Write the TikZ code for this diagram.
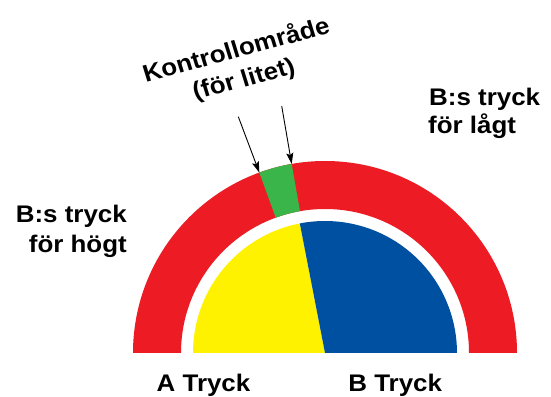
\documentclass[tikz,border=0pt]{standalone}
\usepackage{fontspec}
\setmainfont{Liberation Sans}
\usetikzlibrary{arrows.meta,calc}
\definecolor{gred}{HTML}{ED1C24}
\definecolor{ggreen}{HTML}{3AB54A}
\definecolor{gyellow}{HTML}{FFF200}
\definecolor{gblue}{HTML}{0050A2}
\begin{document}
\begin{tikzpicture}[x=1pt,y=1pt,
  lbl/.style={inner sep=0pt, font=\fontsize{24}{28}\selectfont\bfseries, xscale=1.08},
  pointer/.style={draw=black, line width=0.9pt, -{Stealth[length=11pt,width=7pt,inset=2pt]}}]
\useasboundingbox[fill=white] (0,0) rectangle (551,396);
\coordinate (c) at (325,43);
% red ring
\fill[gred] ($(c)+(-192,0)$) arc[start angle=180,end angle=0,radius=192]
  -- ($(c)+(144,0)$) arc[start angle=0,end angle=180,radius=144] -- cycle;
% green control zone
\fill[ggreen] ($(c)+(100:144)$) -- ($(c)+(100:192)$) arc[start angle=100,end angle=110,radius=192]
  -- ($(c)+(110:144)$) arc[start angle=110,end angle=100,radius=144] -- cycle;
% yellow
\fill[gyellow] (c) -- ($(c)+(-132,0)$) arc[start angle=180,end angle=101,radius=132] -- cycle;
% blue
\fill[gblue] (c) -- ($(c)+(101:132)$) arc[start angle=101,end angle=0,radius=132] -- cycle;
% arrows
\coordinate (gl) at ($(c)+(110:192)$);
\coordinate (gr) at ($(c)+(100:192)$);
\coordinate (sl) at (238.3,279.3);
\coordinate (sr) at (281.7,290);
\draw[pointer] (sl) -- (gl);
\draw[pointer] (sr) -- (gr);
% labels
\node[lbl, anchor=base, rotate=16] (k1) at (238.5,338.5) {Kontrollområde};
\node[lbl, anchor=base, rotate=16] (k2) at (246,309.5) {(för litet)};
\node[lbl, anchor=base east] (h1) at (127,173.7) {B:s tryck};
\node[lbl, anchor=base east] (h2) at (127,143.7) {för högt};
\node[lbl, anchor=base west] (l1) at (429,290) {B:s tryck};
\node[lbl, anchor=base west] (l2) at (428,262.7) {för lågt};
\node[lbl, anchor=base] (a) at (203.5,4.3) {A Tryck};
\node[lbl, anchor=base] (b) at (395.2,4.3) {B Tryck};
\end{tikzpicture}
\end{document}
